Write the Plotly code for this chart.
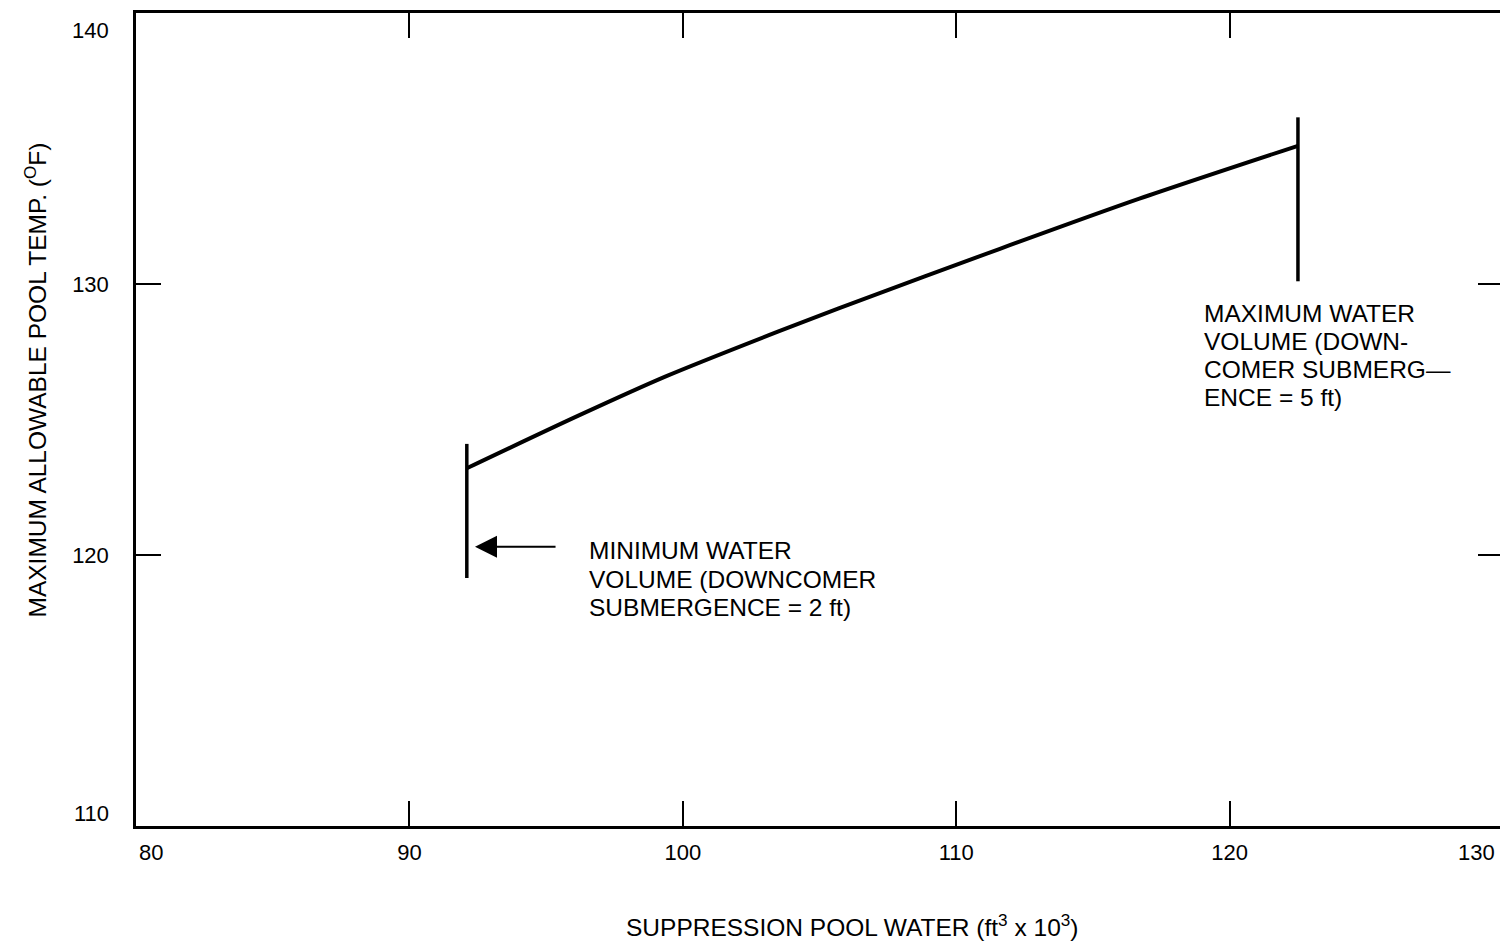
import plotly.graph_objects as go

# ---- data ----
x_volume = [92.1, 96.2, 99.4, 103.5, 105.7, 111.6, 116.7, 122.5]
y_temp = [123.2, 125.15, 126.6, 128.25, 129.1, 131.3, 133.15, 135.1]

min_marker_x = [92.1, 92.1]
min_marker_y = [119.15, 124.1]
max_marker_x = [122.5, 122.5]
max_marker_y = [130.1, 136.15]

arrow_tail = (95.4, 120.3)
arrow_tip = (92.4, 120.3)

x_ticks = [90, 100, 110, 120]
y_ticks = [120, 130]
x_end_labels = ["80", "130"]
y_end_labels = ["110", "140"]

min_text = ["MINIMUM WATER", "VOLUME (DOWNCOMER", "SUBMERGENCE = 2 ft)"]
max_text = ["MAXIMUM WATER", "VOLUME (DOWN-", "COMER SUBMERG\u2014", "ENCE = 5 ft)"]

FONT = "Liberation Sans, Arial, sans-serif"
TXT = 24.5

fig = go.Figure()
fig.add_trace(go.Scatter(x=x_volume, y=y_temp, mode="lines",
                         line=dict(color="black", width=4, shape="spline", smoothing=0.8),
                         hoverinfo="skip"))
fig.add_trace(go.Scatter(x=min_marker_x, y=min_marker_y, mode="lines",
                         line=dict(color="black", width=3.5), hoverinfo="skip"))
fig.add_trace(go.Scatter(x=max_marker_x, y=max_marker_y, mode="lines",
                         line=dict(color="black", width=3.5), hoverinfo="skip"))

annotations = []
# arrow
annotations.append(dict(x=arrow_tip[0], y=arrow_tip[1], ax=arrow_tail[0], ay=arrow_tail[1],
                        xref="x", yref="y", axref="x", ayref="y", text="",
                        showarrow=True, arrowhead=2, arrowsize=2.2, arrowwidth=2,
                        arrowcolor="black"))
# text blocks (one annotation per line)
for i, t in enumerate(min_text):
    annotations.append(dict(x=96.5, y=120.15 - i * 1.05, xref="x", yref="y", text=t,
                            showarrow=False, xanchor="left", yanchor="middle",
                            font=dict(family=FONT, size=TXT, color="black")))
for i, t in enumerate(max_text):
    annotations.append(dict(x=119.0, y=128.9 - i * 1.03, xref="x", yref="y", text=t,
                            showarrow=False, xanchor="left", yanchor="middle",
                            font=dict(family=FONT, size=TXT, color="black")))
# end tick labels (shifted inward as in the reference)
annotations.append(dict(x=80, y=0, xref="x", yref="paper", text=x_end_labels[0],
                        showarrow=False, xanchor="center", yanchor="middle",
                        xshift=15, yshift=-26, font=dict(family=FONT, size=22, color="black")))
annotations.append(dict(x=130, y=0, xref="x", yref="paper", text=x_end_labels[1],
                        showarrow=False, xanchor="center", yanchor="middle",
                        xshift=-27, yshift=-26, font=dict(family=FONT, size=22, color="black")))
annotations.append(dict(x=0, y=110, xref="paper", yref="y", text=y_end_labels[0],
                        showarrow=False, xanchor="right", yanchor="middle",
                        xshift=-25, yshift=13, font=dict(family=FONT, size=22, color="black")))
annotations.append(dict(x=0, y=140, xref="paper", yref="y", text=y_end_labels[1],
                        showarrow=False, xanchor="right", yanchor="middle",
                        xshift=-25, yshift=-17, font=dict(family=FONT, size=22, color="black")))
# axis titles
annotations.append(dict(x=0.524, y=0, xref="paper", yref="paper",
                        text="SUPPRESSION POOL WATER (ft<sup>3</sup> x 10<sup>3</sup>)",
                        showarrow=False, xanchor="center", yanchor="middle", yshift=-99,
                        font=dict(family=FONT, size=TXT, color="black")))
annotations.append(dict(x=0, y=0.548, xref="paper", yref="paper",
                        text="MAXIMUM ALLOWABLE POOL TEMP. (<sup>O</sup>F)",
                        showarrow=False, xanchor="center", yanchor="middle", xshift=-101,
                        textangle=-90, font=dict(family=FONT, size=TXT, color="black")))

fig.update_layout(
    width=1500, height=935,
    margin=dict(l=128, r=3, t=2, b=117),
    paper_bgcolor="white", plot_bgcolor="white",
    showlegend=False,
    annotations=annotations,
    font=dict(family=FONT, size=22, color="black"),
)
fig.update_xaxes(range=[80, 130], tickvals=x_ticks, ticktext=[str(v) for v in x_ticks],
                 ticks="inside", ticklen=25, tickwidth=2, tickcolor="black",
                 showline=True, linewidth=2.5, linecolor="black", mirror="ticks",
                 showgrid=False, zeroline=False, ticklabelstandoff=5,
                 tickfont=dict(family=FONT, size=22, color="black"))
fig.update_yaxes(range=[110, 140], tickvals=y_ticks, ticktext=[str(v) for v in y_ticks],
                 ticks="inside", ticklen=25, tickwidth=2, tickcolor="black",
                 showline=True, linewidth=2.5, linecolor="black", mirror="ticks",
                 showgrid=False, zeroline=False, ticklabelstandoff=20,
                 tickfont=dict(family=FONT, size=22, color="black"))

fig.write_html("out.html")
